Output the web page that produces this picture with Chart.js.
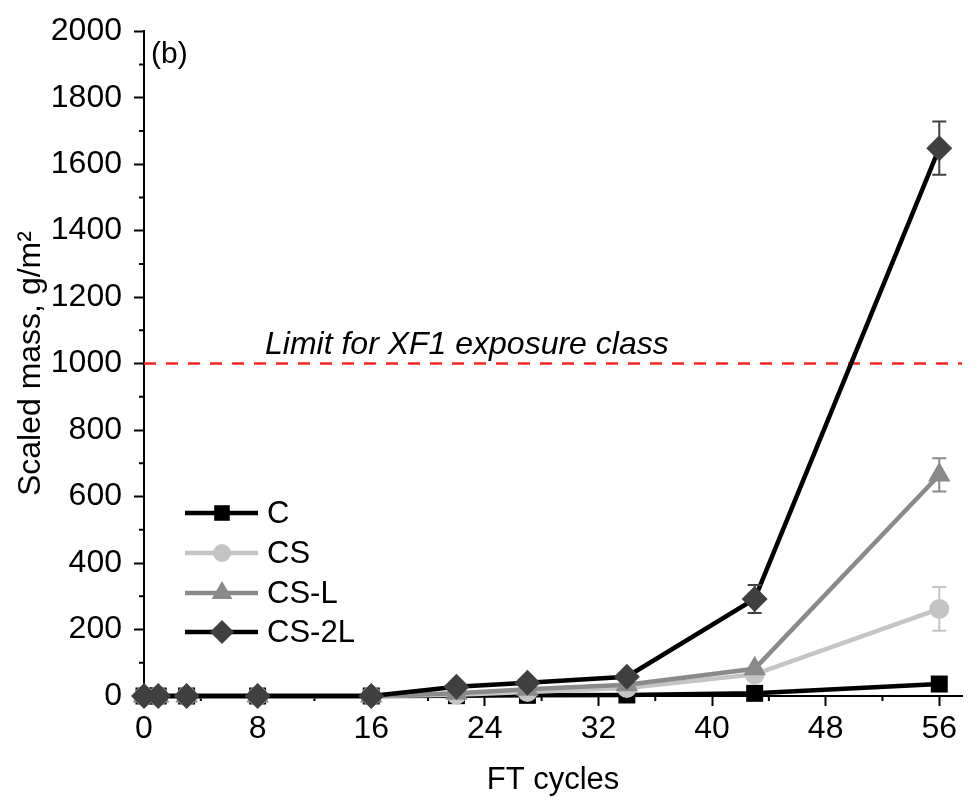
<!DOCTYPE html>
<html>
<head>
<meta charset="utf-8">
<script src="https://cdn.jsdelivr.net/npm/chart.js@4/dist/chart.umd.min.js"></script>
<style>
html,body{margin:0;padding:0;background:#fff;}
canvas{display:block;}
</style>
</head>
<body>
<canvas id="c" width="975" height="805"></canvas>
<script>
// ---- data ----
const cycles = [0, 1, 3, 8, 16, 22, 27, 34, 43, 56];
const seriesNames = ['C', 'CS', 'CS-L', 'CS-2L'];
const valuesC    = [0, 0, 0, 0, 0, 1, 2, 3, 8, 36];
const valuesCS   = [0, 0, 0, 0, 0, 4, 12, 24, 65, 262];
const valuesCSL  = [0, 0, 0, 0, 0, 8, 20, 34, 82, 665];
const valuesCS2L = [0, 0, 0, 0, 0, 28, 40, 58, 292, 1648];
const errC    = [0, 0, 0, 0, 0, 0, 0, 0, 2, 5];
const errCS   = [0, 0, 0, 0, 0, 0, 0, 0, 0, 66];
const errCSL  = [0, 0, 0, 0, 0, 0, 0, 0, 0, 50];
const errCS2L = [0, 0, 0, 0, 0, 0, 0, 0, 42, 80];
const xTickLabels = [0, 8, 16, 24, 32, 40, 48, 56];
const yTickLabels = [0, 200, 400, 600, 800, 1000, 1200, 1400, 1600, 1800, 2000];
const limitValue = 1000;
const limitLabel = 'Limit for XF1 exposure class';
const panelLabel = '(b)';
const xTitle = 'FT cycles';
const yTitle = 'Scaled mass, g/m\u00B2';

const FONT = '"Liberation Sans", Arial, sans-serif';

function pts(vals){ return cycles.map((x,i)=>({x:x, y:vals[i]})); }

const styles = [
  {line:'#000000', fill:'#000000', shape:'rect', r:12},
  {line:'#c4c4c4', fill:'#c4c4c4', shape:'circle', r:10},
  {line:'#8a8a8a', fill:'#8a8a8a', shape:'triangle', r:13},
  {line:'#000000', fill:'#404040', shape:'rectRot', r:13}
];
const allVals = [valuesC, valuesCS, valuesCSL, valuesCS2L];
const allErr = [errC, errCS, errCSL, errCS2L];

const datasets = seriesNames.map((name,i)=>({
  label: name,
  data: pts(allVals[i]),
  borderColor: styles[i].line,
  backgroundColor: styles[i].fill,
  pointBackgroundColor: styles[i].fill,
  pointBorderColor: styles[i].fill,
  pointBorderWidth: 0,
  pointStyle: styles[i].shape,
  pointRadius: styles[i].r,
  pointHoverRadius: styles[i].r,
  borderWidth: 4.5,
  tension: 0,
  clip: false,
  order: 3 - i
}));

const extras = {
  id: 'extras',
  beforeDatasetsDraw(chart){
    const {ctx, chartArea, scales:{x,y}} = chart;
    // limit line
    const yy = y.getPixelForValue(limitValue);
    ctx.save();
    ctx.strokeStyle = '#ff2222';
    ctx.lineWidth = 2.5;
    ctx.setLineDash([12, 10]);
    ctx.beginPath();
    ctx.moveTo(chartArea.left, yy);
    ctx.lineTo(chartArea.right, yy);
    ctx.stroke();
    ctx.setLineDash([]);
    ctx.fillStyle = '#000';
    ctx.font = 'italic 32px ' + FONT;
    ctx.textAlign = 'left';
    ctx.textBaseline = 'alphabetic';
    ctx.fillText(limitLabel, 265, yy - 10);
    ctx.font = '30px ' + FONT;
    ctx.textBaseline = 'middle';
    ctx.fillText(panelLabel, 151, 55);
    // minor ticks
    ctx.strokeStyle = '#000';
    ctx.lineWidth = 2;
    ctx.beginPath();
    for (let v = 100; v < 2000; v += 200) {
      const p = y.getPixelForValue(v);
      ctx.moveTo(chartArea.left - 5, p); ctx.lineTo(chartArea.left, p);
    }
    for (let v = 4; v < 57; v += 8) {
      const p = x.getPixelForValue(v);
      ctx.moveTo(p, chartArea.bottom); ctx.lineTo(p, chartArea.bottom + 5);
    }
    ctx.stroke();
    ctx.restore();
  },
  afterDatasetsDraw(chart){
    const {ctx, scales:{x,y}} = chart;
    ctx.save();
    ctx.lineWidth = 2;
    allErr.forEach((errs, i)=>{
      ctx.strokeStyle = styles[i].fill;
      errs.forEach((e, j)=>{
        if (!e) return;
        const px = x.getPixelForValue(cycles[j]);
        const top = y.getPixelForValue(allVals[i][j] + e);
        const bot = y.getPixelForValue(allVals[i][j] - e);
        ctx.beginPath();
        ctx.moveTo(px, top); ctx.lineTo(px, bot);
        ctx.moveTo(px - 7, top); ctx.lineTo(px + 7, top);
        ctx.moveTo(px - 7, bot); ctx.lineTo(px + 7, bot);
        ctx.stroke();
      });
    });
    // legend
    const lx0 = 185, lx1 = 258, mx = 222, tx = 267;
    const rowY = [513, 553, 593, 632];
    ctx.font = '31px ' + FONT;
    ctx.textAlign = 'left';
    ctx.textBaseline = 'middle';
    seriesNames.forEach((name, i)=>{
      const yy = rowY[i];
      ctx.strokeStyle = styles[i].line;
      ctx.lineWidth = 4.5;
      ctx.beginPath();
      ctx.moveTo(lx0, yy); ctx.lineTo(lx1, yy);
      ctx.stroke();
      ctx.fillStyle = styles[i].fill;
      ctx.strokeStyle = styles[i].fill;
      Chart.helpers.drawPoint(ctx, {pointStyle: styles[i].shape, radius: styles[i].r - 1, rotation: 0, borderWidth: 0}, mx, yy);
      ctx.fillStyle = '#000';
      ctx.fillText(name, tx, yy + 1);
    });
    ctx.restore();
  }
};

new Chart(document.getElementById('c'), {
  type: 'line',
  data: { datasets },
  plugins: [extras],
  options: {
    responsive: false,
    animation: false,
    events: [],
    layout: { padding: { top: 26, right: 0, left: 0, bottom: 0 } },
    plugins: { legend: { display: false }, tooltip: { enabled: false } },
    scales: {
      x: {
        type: 'linear',
        min: 0, max: 57.6,
        afterFit(s){ s.height = 109; },
        border: { display: true, color: '#000', width: 2 },
        grid: { display: true, drawOnChartArea: false, drawTicks: true, tickLength: 10, tickWidth: 2, tickColor: '#000' },
        afterBuildTicks(s){ s.ticks = xTickLabels.map(v=>({value:v})); },
        ticks: { color: '#000', font: { family: FONT, size: 32 }, padding: 4, maxRotation: 0, autoSkip: false, includeBounds: false, callback: v => String(v) },
        title: { display: true, text: xTitle, color: '#000', font: { family: FONT, size: 31 }, padding: { top: 0, bottom: 6 } }
      },
      y: {
        type: 'linear',
        min: 0, max: 2000,
        afterFit(s){ s.width = 144; },
        border: { display: true, color: '#000', width: 2 },
        grid: { display: true, drawOnChartArea: false, drawTicks: true, tickLength: 10, tickWidth: 2, tickColor: '#000' },
        afterBuildTicks(s){ s.ticks = yTickLabels.map(v=>({value:v})); },
        ticks: { color: '#000', font: { family: FONT, size: 32 }, padding: 12, autoSkip: false, includeBounds: false, callback: v => String(v) },
        title: { display: true, text: yTitle, color: '#000', font: { family: FONT, size: 32 }, padding: { top: 12, bottom: 0 } }
      }
    }
  }
});
</script>
</body>
</html>
